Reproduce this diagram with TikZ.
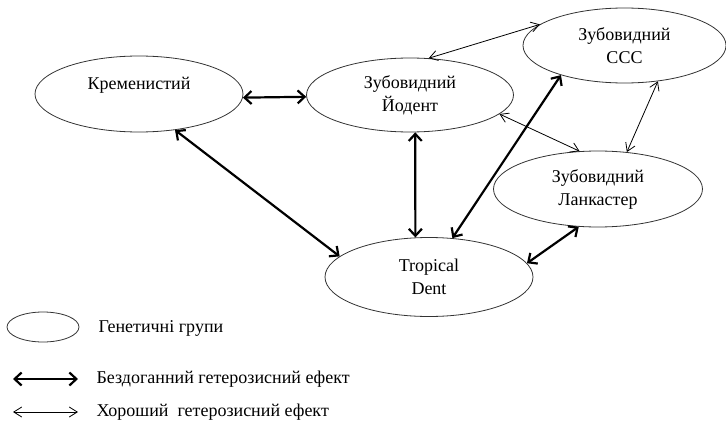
\documentclass[tikz,border=0pt]{standalone}
\usepackage{fontspec}
\setmainfont{Liberation Serif}
\usetikzlibrary{shapes.geometric,arrows.meta}
\begin{document}
\begin{tikzpicture}[x=1pt,y=-1pt,
  group/.style={ellipse,draw=black!80,line width=0.8pt,inner sep=0pt,
    align=center,font=\fontsize{18}{23}\selectfont},
  strong/.style={line width=2.2pt,{Straight Barb[length=7pt,width=13pt]}-{Straight Barb[length=7pt,width=13pt]}},
  good/.style={line width=0.8pt,{Straight Barb[length=8pt,width=10pt]}-{Straight Barb[length=8pt,width=10pt]}},
  legtext/.style={anchor=west,font=\fontsize{18}{23}\selectfont}]
\useasboundingbox (0,0) rectangle (726,428);

% genetic groups
\node[group,minimum width=208pt,minimum height=76pt] (K) at (139,94)
  {\raisebox{9pt}[\height][\depth]{Кременистий}};
\node[group,minimum width=207pt,minimum height=74pt] (Y) at (410,95) {Зубовидний\\Йодент};
\node[group,minimum width=203pt,minimum height=75pt] (C) at (624.5,45.5) {Зубовидний\\ССС};
\node[group,minimum width=209pt,minimum height=76pt] (L) at (598,189) {Зубовидний\\Ланкастер};
\node[group,minimum width=208pt,minimum height=79pt] (T) at (429,277) {Tropical\\Dent};

% perfect heterosis effect
\draw[strong] (K.-2) -- (Y.181);
\draw[strong] (K.-45) -- (T.167);
\draw[strong] (Y.-82) -- (T.109);
\draw[strong] (T.59.5) -- (C.205);
\draw[strong] (T.8.4) -- (L.243.4);

% good heterosis effect
\draw[good] (Y.63) -- (C.166.7);
\draw[good] (Y.-12) -- (L.116);
\draw[good] (C.-47.3) -- (L.52.2);

% legend
\node[group,minimum width=72pt,minimum height=30pt] (legE) at (43,327) {};
\node[legtext] (legEt) at (95,328) {Генетичні групи};
\coordinate (l1a) at (13,379);
\coordinate (l1b) at (78,379);
\draw[strong] (l1a) -- (l1b);
\node[legtext] (l1t) at (93,379) {Бездоганний гетерозисний ефект};
\coordinate (l2a) at (13,412);
\coordinate (l2b) at (78,412);
\draw[good] (l2a) -- (l2b);
\node[legtext] (l2t) at (93,412) {Хороший\ \ гетерозисний ефект};
\end{tikzpicture}
\end{document}
